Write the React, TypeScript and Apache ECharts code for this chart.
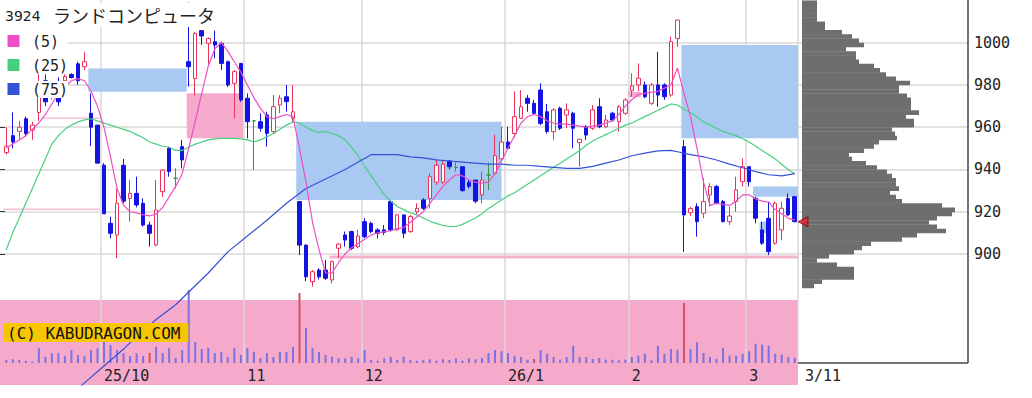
import React, { useEffect, useRef } from "react";
import * as echarts from "echarts";

// ---------- data ----------
const DATES = [
  "2025-09-08","2025-09-09","2025-09-10","2025-09-11","2025-09-12","2025-09-16","2025-09-17","2025-09-18","2025-09-19","2025-09-22","2025-09-24","2025-09-25","2025-09-26","2025-09-29","2025-09-30",
  "2025-10-01","2025-10-02","2025-10-03","2025-10-06","2025-10-07","2025-10-08","2025-10-09","2025-10-10","2025-10-14","2025-10-15","2025-10-16","2025-10-17","2025-10-20","2025-10-21","2025-10-22","2025-10-23","2025-10-24","2025-10-27","2025-10-28","2025-10-29","2025-10-30","2025-10-31",
  "2025-11-04","2025-11-05","2025-11-06","2025-11-07","2025-11-10","2025-11-11","2025-11-12","2025-11-13","2025-11-14","2025-11-17","2025-11-18","2025-11-19","2025-11-20","2025-11-21","2025-11-25","2025-11-26","2025-11-27","2025-11-28",
  "2025-12-01","2025-12-02","2025-12-03","2025-12-04","2025-12-05","2025-12-08","2025-12-09","2025-12-10","2025-12-11","2025-12-12","2025-12-15","2025-12-16","2025-12-17","2025-12-18","2025-12-19","2025-12-22","2025-12-23","2025-12-24","2025-12-25","2025-12-26","2025-12-29","2025-12-30",
  "2026-01-05","2026-01-06","2026-01-07","2026-01-08","2026-01-09","2026-01-13","2026-01-14","2026-01-15","2026-01-16","2026-01-19","2026-01-20","2026-01-21","2026-01-22","2026-01-23","2026-01-26","2026-01-27","2026-01-28","2026-01-29","2026-01-30",
  "2026-02-02","2026-02-03","2026-02-04","2026-02-05","2026-02-06","2026-02-09","2026-02-10","2026-02-12","2026-02-13","2026-02-16","2026-02-17","2026-02-18","2026-02-19","2026-02-20","2026-02-24","2026-02-25","2026-02-26","2026-02-27",
  "2026-03-02","2026-03-03","2026-03-04","2026-03-05","2026-03-06","2026-03-09","2026-03-10","2026-03-11",
];

const MONTH_LABELS: Record<string, string> = {
  "2025-10-01": "25/10",
  "2025-11-04": "11",
  "2025-12-01": "12",
  "2026-01-05": "26/1",
  "2026-02-02": "2",
  "2026-03-02": "3",
};
const LAST_LABEL = "3/11";
const TITLE_CODE = "3924";
const TITLE_NAME = "ランドコンピュータ";
const MA_NAMES = ["(5)", "(25)", "(75)"];

const OPEN = [
  948, 956, 958, 964, 958.7, 967, 982, 975, 980, 982,
  985, 990, 988.6, 966.6, 961, 942, 914.5, 909, 942, 926.3,
  928.7, 924, 913.7, 904.3, 929.5, 950, 935.8, 950.8, 991, 983,
  1005.7, 999.7, 1000.5, 999.7, 991, 980.8, 990.2, 973.7, 963, 962.6,
  965.8, 957.9, 970.5, 974.4, 964.2, 924.8, 904.2, 886.9, 892.4, 892.4,
  887.7, 902.7, 909, 910.6, 903.5, 915.3, 914.5, 911.4, 911.4, 924.8,
  911.4, 918.5, 910.6, 920, 925.6, 926.3, 934, 934, 944, 941,
  941.3, 934, 935, 928, 937.4, 938.2, 945, 953, 957, 964.2,
  973.7, 971.3, 977.6, 967.3, 957.9, 969, 965.8, 966.6, 952.7, 960.2,
  959.5, 969.7, 960.2, 966.6, 962.6, 966.6, 977.3, 980, 980, 971.3,
  980, 980, 975.2, 1002, 950.8, 919.5, 922.4, 919.3, 927.9, 931.9,
  924.8, 915.3, 924.8, 934.2, 941.3, 926.3, 911.4, 916.9, 905.1, 911.4,
  926.3, 927.1,
];
const CLOSE = [
  951, 953, 960, 957, 961, 976, 972, 978, 972, 984,
  983.5, 982, 991, 960, 943, 919, 909.8, 924, 925, 928.7,
  923.2, 913.7, 909.8, 920.8, 939.7, 939, 935.8, 944.5, 988.6, 1004.4,
  1003.2, 1002, 998.9, 990.2, 980, 986.3, 972.9, 962.6, 963, 959.5,
  957.1, 969.7, 973.7, 972.1, 967.3, 904.2, 889.2, 891.6, 889.2, 888.5,
  896.4, 904.7, 906.6, 902.7, 908.5, 908.2, 910.6, 909.8, 910.2, 911.4,
  918.5, 909.8, 917.7, 921.6, 921.6, 936.6, 942, 942.5, 941.3, 941,
  930, 932, 925, 935, 937.4, 946.5, 953, 950, 965, 969.7,
  971.3, 966.6, 961.8, 958, 968.2, 959.5, 968.2, 959.5, 954.3, 956.3,
  968.2, 960.2, 963.4, 963.4, 969.7, 972.9, 979.5, 983.2, 974.4, 980,
  975.2, 974.4, 1000.5, 1010.7, 918.5, 921.5, 915.3, 924.8, 931.9, 924,
  915.3, 918, 930.3, 941.3, 934.2, 916.9, 905.1, 901.1, 924, 921.6,
  918.5, 915.3,
];
const LOW = [
  947, 950, 954, 955.5, 954, 963, 970, 973, 970, 981,
  983, 980, 987, 951, 943, 919, 907.4, 898, 924, 915.3,
  922, 912.9, 903.5, 903.5, 927, 936.6, 931, 940.5, 979.2, 975,
  999, 989.4, 992.6, 987.1, 979, 964.2, 972, 954.7, 939.7, 957.9,
  950.8, 957.1, 966.6, 967.3, 962.6, 899.5, 887, 884.5, 888, 887.7,
  886.1, 898, 903.5, 901.9, 902.7, 907.4, 909.8, 907.4, 909, 910.6,
  911, 907.4, 910, 918.5, 920.8, 921.6, 932.7, 933, 940, 939,
  929.5, 931, 924, 924, 930.3, 937.4, 944.5, 949.2, 955, 964,
  967.3, 965.8, 961, 957, 954, 958.7, 959.5, 950, 941.3, 954,
  958.7, 959.5, 959.5, 962.6, 957.9, 965.8, 974.4, 977, 973.7, 970.5,
  969.7, 972.9, 974.4, 998, 901, 918, 908.2, 916.9, 922.4, 923.5,
  915, 913.7, 920, 931.9, 931.9, 914.5, 904.3, 899.5, 904.3, 906.6,
  918, 915,
];
const HIGH = [
  960, 967, 963, 965, 962.6, 985, 985, 980, 983.6, 985,
  985.5, 991, 995.7, 976, 961, 943, 917.7, 931, 945, 935,
  936.6, 926.3, 915.3, 935, 940, 950.8, 940.5, 954, 1019, 1005,
  1006, 1002.5, 1005.7, 1000.5, 991.5, 987.1, 990.2, 976, 963.4, 966.6,
  967.3, 975.2, 975.2, 980, 980, 925, 904.5, 892.4, 893.2, 897.2,
  897, 905.1, 910.6, 911, 911.5, 916.9, 915.3, 912.2, 913.7, 925.6,
  919, 918.5, 918.5, 924, 926.4, 938, 944.5, 944.5, 944.5, 943.3,
  941.3, 935, 935, 939, 943.3, 956.5, 960.2, 960.2, 977, 977.6,
  975.2, 972.9, 980.8, 971, 969, 969.7, 971.3, 967.3, 954.5, 961,
  970.5, 973.7, 965.8, 967.3, 970.5, 973.7, 985.5, 990.2, 981.6, 981,
  995.7, 980.8, 1002.8, 1010.7, 954, 922.4, 924, 935.8, 933.5, 932.7,
  925.6, 922.4, 936.6, 945.3, 941.3, 927, 915.3, 924.8, 924.8, 924.8,
  928.7, 927.5,
];

const VOLUME = [
  3, 3.7, 3, 2.3, 1.3, 15, 6.3, 9.7, 9.7, 7,
  13, 8, 7, 13, 14.7, 21.3, 18, 13, 9.7, 7,
  9.7, 7, 10, 16.3, 10, 15, 5, 13, 73, 21,
  14, 15, 10, 11, 6, 15, 8, 15, 11, 5,
  10, 6, 11, 11, 16, 70, 35, 15, 11, 8,
  6.3, 4.7, 4.7, 6.3, 4.7, 13, 3, 2.3, 4.7, 6.3,
  3, 6.3, 3, 2.3, 3, 3.7, 2.3, 3.7, 3, 4.7,
  2.3, 4.7, 3.7, 5, 10, 13, 11.7, 10, 7.3, 6,
  3.3, 4, 12.7, 9.3, 6, 3.3, 6, 17.3, 6, 6,
  4, 5, 3.3, 3.3, 2.7, 3.3, 6, 7.3, 9.3, 2.7,
  17.3, 9.3, 14, 13.3, 60, 14, 20.7, 10, 6, 4,
  15, 7.3, 7.3, 9.3, 11.7, 19.3, 18.3, 17.3, 9.3, 8.3,
  6, 5,
];
const VOLUME_ALERT = [22, 45, 81, 104];

const MA5 = [
  950, 952, 954, 956, 959, 962, 966, 971, 976, 979,
  982, 983, 982, 977, 970, 960, 946, 931, 923, 920,
  919.5, 918.5, 918, 919, 922, 927, 932, 938, 950, 963,
  976, 989, 997, 1000, 996, 991, 986, 980, 974, 969,
  965, 964, 965, 966, 965, 950, 934, 915, 902, 891,
  891, 896, 900, 903, 905, 907, 909, 910, 910.5, 911,
  912, 912.5, 915, 917.5, 920, 924, 928, 932, 935, 937.5,
  937, 935, 934, 933.5, 934, 938, 944, 950, 956, 962,
  965, 966, 965, 963, 962, 961.5, 961.5, 961, 960.5, 960,
  960.5, 961, 962, 963, 966, 970, 973, 975.5, 976, 976.5,
  977, 978.5, 980, 988, 976, 965, 950, 934, 923, 924,
  923.5, 923, 925, 928, 928, 926, 925, 924.5, 921, 919,
  917, 916,
];
const MA25 = [
  902, 910, 917, 924, 931, 938, 945, 952, 956, 959,
  961, 962.5, 963.5, 964, 963, 962, 961, 960, 959, 958,
  956.5, 955, 953, 952, 951, 950.5, 949, 949, 950.5, 952,
  953, 954, 954.5, 954.7, 954.7, 954.7, 954.5, 954, 953, 954,
  955.5, 957, 959, 961, 962.5, 962, 960, 958.5, 957.5, 958,
  957, 956, 954, 950.5, 946.5, 941.5, 937, 932.5, 928, 925,
  922.5, 921, 919.5, 918.5, 917, 915.5, 914.5, 913.5, 913, 913,
  914, 915.5, 917, 919, 921.5, 923.5, 925.5, 927.5, 929, 931,
  933, 935, 937, 939, 941, 943, 945, 947, 949, 951.5,
  953.5, 955, 956.5, 958, 959.5, 961, 962, 963.5, 965, 966.5,
  968, 969.5, 971, 970.5, 968.5, 967, 965, 962.5, 961, 959.5,
  958, 957, 956, 954.5, 953, 951, 949, 947, 945, 942.5,
  940, 938,
];
const MA75: [number, number][] = [
  [5, 820], [8, 828], [12, 839], [15, 847], [18, 855], [20, 861], [23, 869], [26, 876],
  [28, 882], [31, 891], [34, 901], [37, 908.5], [40, 916], [43, 924], [46, 931], [49, 935.5],
  [52, 940], [54, 943.5], [56, 947], [58, 947], [60, 947], [62, 946], [64, 945.5], [66, 944.5],
  [68, 944], [70, 943.5], [72, 943], [74, 942.5], [76, 942.5], [78, 942], [80, 942], [82, 941.5],
  [84, 941], [86, 940.5], [88, 940.5], [90, 941.5], [92, 943], [94, 944.5], [96, 946.5], [98, 947.7],
  [100, 948.8], [102, 949], [103, 948.4], [105, 947], [107, 946], [109, 944.5], [111, 942.5],
  [113, 940.8], [115, 939], [117, 937.5], [119, 937], [121, 938],
];

// volume-by-price profile (bin low price, bin volume)
const PROFILE_PRICE = [
  884, 886, 888, 890, 892, 894, 896, 898, 900, 902, 904, 906, 908, 910, 912, 914, 916, 918, 920, 922,
  924, 926, 928, 930, 932, 934, 936, 938, 940, 942, 944, 946, 948, 950, 952, 954, 956, 958, 960, 962,
  964, 966, 968, 970, 972, 974, 976, 978, 980, 982, 984, 986, 988, 990, 992, 994, 996, 998, 1000, 1002,
  1004, 1006, 1008, 1010, 1012, 1014, 1016, 1018,
];
const PROFILE_VOL = [
  12, 20, 52, 52, 52, 35, 15, 27, 52, 60, 69, 100, 115, 144, 135, 127, 135, 150, 153, 140,
  100, 94, 88, 97, 94, 94, 90, 85, 75, 64, 50, 47, 62, 72, 77, 95, 93, 90, 112, 112,
  104, 117, 109, 109, 109, 105, 97, 97, 108, 94, 84, 78, 72, 57, 54, 54, 44, 62, 57, 50,
  40, 23, 23, 15, 15, 15, 15, 15,
];
const PROFILE_BIN = 2;

// shaded zones: [fromIndex, toIndex, upper price, lower price, kind 0=blue 1=pink]
const ZONES: [number, number, number, number, number][] = [
  [12.6, 27.7, 987.8, 976.8, 0],
  [27.7, 36.35, 976.1, 954.8, 1],
  [44.5, 76.0, 962.6, 925.6, 0],
  [95.4, 97.4, 976.8, 974.2, 1],
  [103.6, 121.5, 998.9, 954.8, 0],
  [114.6, 121.5, 931.9, 927.1, 0],
  [115.6, 116.7, 915.3, 909.8, 0],
];
// horizontal marker lines: [fromIndex, toIndex, price, width]
const LEVELS: [number, number, number, number][] = [
  [-0.5, 14.4, 921.2, 1],
  [5.6, 14.4, 964.3, 1],
  [49.6, 121.5, 898.6, 3],
];

// ---------- layout ----------
const PRICE_MIN = 838.0;
const PRICE_MAX = 1020.2;
const PLOT_L = 3;
const PLOT_W = 795;
const AXIS_X = 968;
const VOL_BOTTOM = 363;

const C_UP = "#e8345c";
const C_DOWN = "#1414e0";
const C_DOJI = "#2e9a3e";
const C_MA5 = "#ee4fc6";
const C_MA25 = "#46d07e";
const C_MA75 = "#3452d6";
const C_BLUEZONE = "#aac9f2";
const C_PINK = "#f5aacb";
const C_GRID = "#d9d9d9";
const MONO = '"DejaVu Sans Mono", monospace';

export default function App() {
  const ref = useRef<HTMLDivElement>(null);

  useEffect(() => {
    if (!ref.current) return;
    const chart = echarts.init(ref.current, null, { renderer: "svg" });
    const n = DATES.length;
    const isMonth = (_i: number, v: string) => v in MONTH_LABELS;

    const option: any = {
      animation: false,
      backgroundColor: "#ffffff",
      grid: [
        { left: PLOT_L, top: 0, width: PLOT_W, height: 385 },
        { left: PLOT_L, top: 0, width: PLOT_W, height: VOL_BOTTOM },
        { left: 802, top: 0, width: AXIS_X - 802, height: 385 },
        { left: 0, top: 42.7, width: AXIS_X, height: 211.3 },
      ],
      xAxis: [
        { type: "category", gridIndex: 0, data: DATES, show: false, boundaryGap: true },
        {
          type: "category", gridIndex: 1, data: DATES, boundaryGap: true,
          axisLine: { show: false }, axisTick: { show: false },
          axisLabel: {
            interval: isMonth, formatter: (v: string) => MONTH_LABELS[v] ?? "",
            align: "left", margin: 5, fontFamily: MONO, fontSize: 15, color: "#222",
          },
          splitLine: { show: true, interval: isMonth, lineStyle: { color: C_GRID, width: 1.5 } },
        },
        { type: "value", gridIndex: 0, min: -0.5, max: n - 0.5, show: false, position: "top" },
        { type: "value", gridIndex: 2, min: 0, max: AXIS_X - 802, show: false },
        { type: "value", gridIndex: 3, min: 0, max: 1, show: false },
      ],
      yAxis: [
        { type: "value", gridIndex: 0, min: PRICE_MIN, max: PRICE_MAX, show: false },
        { type: "value", gridIndex: 1, min: 0, max: VOL_BOTTOM, show: false },
        { type: "value", gridIndex: 2, min: PRICE_MIN, max: PRICE_MAX, show: false },
        {
          type: "value", gridIndex: 3, min: 900, max: 1000, interval: 20, position: "right",
          axisLine: { show: false },
          axisTick: { show: true, length: 5, lineStyle: { color: "#333" } },
          axisLabel: { margin: 6, fontFamily: MONO, fontSize: 15, color: "#222", formatter: (v: number) => String(v) },
          splitLine: { show: true, lineStyle: { color: C_GRID, width: 1.5 } },
        },
      ],
      series: [
        {
          type: "custom", xAxisIndex: 2, yAxisIndex: 0, z: 1,
          encode: { x: [0, 1], y: [2, 3] },
          data: ZONES,
          renderItem: (_p: any, api: any) => {
            const a = api.coord([api.value(0), api.value(2)]);
            const b = api.coord([api.value(1), api.value(3)]);
            return {
              type: "rect",
              shape: { x: a[0], y: a[1], width: b[0] - a[0], height: b[1] - a[1] },
              style: { fill: api.value(4) === 1 ? C_PINK : C_BLUEZONE },
            };
          },
        },
        {
          type: "custom", xAxisIndex: 2, yAxisIndex: 0, z: 1,
          encode: { x: [0, 1], y: 2 },
          data: LEVELS,
          renderItem: (_p: any, api: any) => {
            const a = api.coord([api.value(0), api.value(2)]);
            const b = api.coord([api.value(1), api.value(2)]);
            return {
              type: "line",
              shape: { x1: a[0], y1: a[1], x2: b[0], y2: b[1] },
              style: { stroke: api.value(3) > 1 ? "#f4b2cf" : "#f0a0c4", lineWidth: api.value(3) },
            };
          },
        },
        {
          type: "bar", xAxisIndex: 1, yAxisIndex: 1, barWidth: 2, z: 2,
          data: VOLUME.map((v, i) => ({
            value: v,
            itemStyle: { color: VOLUME_ALERT.includes(i) ? "#d4505c" : "#7b72df" },
          })),
        },
        {
          type: "candlestick", xAxisIndex: 0, yAxisIndex: 0, barWidth: 4, z: 3,
          data: DATES.map((_, i) => [OPEN[i], CLOSE[i], LOW[i], HIGH[i]]),
          itemStyle: {
            color: "#ffffff", color0: C_DOWN,
            borderColor: C_UP, borderColor0: C_DOWN, borderColorDoji: C_DOJI, borderWidth: 1,
          },
        },
        {
          type: "line", xAxisIndex: 0, yAxisIndex: 0, data: MA25, showSymbol: false, z: 4,
          lineStyle: { color: C_MA25, width: 1.2 },
        },
        {
          type: "line", xAxisIndex: 0, yAxisIndex: 0, data: MA75, showSymbol: false, z: 4,
          lineStyle: { color: C_MA75, width: 1.2 },
        },
        {
          type: "line", xAxisIndex: 0, yAxisIndex: 0, data: MA5, showSymbol: false, z: 4,
          lineStyle: { color: C_MA5, width: 1.2 },
        },
        {
          type: "custom", xAxisIndex: 3, yAxisIndex: 2, z: 2,
          encode: { x: 0, y: 1 },
          data: PROFILE_PRICE.map((p, i) => [PROFILE_VOL[i], p]),
          renderItem: (_p: any, api: any) => {
            const a = api.coord([0, api.value(1) + PROFILE_BIN]);
            const b = api.coord([api.value(0), api.value(1)]);
            return {
              type: "rect",
              shape: { x: a[0], y: a[1], width: b[0] - a[0], height: b[1] - a[1] + 0.4 },
              style: { fill: "#6e6e6e" },
            };
          },
        },
        {
          type: "scatter", xAxisIndex: 3, yAxisIndex: 2, z: 6,
          data: [[0, CLOSE[CLOSE.length - 1]]],
          symbol: "triangle", symbolRotate: 90, symbolSize: [10, 10], symbolOffset: [1, 0],
          itemStyle: { color: "#e3202a", borderColor: "#7a0000", borderWidth: 1 },
        },
      ],
      graphic: {
        elements: [
          { type: "rect", silent: true, z: -1, shape: { x: 0, y: 300, width: 798, height: 85 }, style: { fill: C_PINK } },
          { type: "line", silent: true, z: 5, shape: { x1: AXIS_X, y1: 0, x2: AXIS_X, y2: VOL_BOTTOM }, style: { stroke: "#444", lineWidth: 1.5 } },
          { type: "line", silent: true, z: 5, shape: { x1: 798, y1: VOL_BOTTOM, x2: AXIS_X, y2: VOL_BOTTOM }, style: { stroke: "#444", lineWidth: 1.5 } },
          { type: "text", silent: true, z: 10, x: 805, y: 376, style: { text: LAST_LABEL, font: `15px ${MONO}`, fill: "#222", verticalAlign: "middle" } },
          // title
          { type: "rect", silent: true, z: 9, shape: { x: 0, y: 3, width: 218, height: 24 }, style: { fill: "#ffffff" } },
          { type: "text", silent: true, z: 10, x: 5, y: 16, style: { text: TITLE_CODE, font: '14px "DejaVu Sans"', fill: "#222", verticalAlign: "middle" } },
          { type: "text", silent: true, z: 10, x: 53, y: 15, style: { text: TITLE_NAME, font: '18px "Noto Sans CJK JP"', fill: "#222", verticalAlign: "middle" } },
          // legend rows
          ...[C_MA5, C_MA25, C_MA75].flatMap((c, k) => [
            { type: "rect", silent: true, z: 9, shape: { x: 0, y: 33 + 24 * k, width: 68, height: 17 }, style: { fill: "#ffffff" } },
            { type: "rect", silent: true, z: 10, shape: { x: 7.5, y: 35 + 24 * k, width: 12, height: 12 }, style: { fill: c } },
            { type: "text", silent: true, z: 10, x: 32, y: 41.5 + 24 * k, style: { text: MA_NAMES[k], font: `15px ${MONO}`, fill: "#222", verticalAlign: "middle" } },
          ]),
          // copyright
          {
            type: "text", silent: true, z: 10, x: 4, y: 323,
            style: { text: "(C) KABUDRAGON.COM", font: `16px ${MONO}`, fill: "#111", backgroundColor: "#f7c600", padding: [2, 8, 1, 3] },
          },
        ],
      },
    };

    chart.setOption(option);
    return () => chart.dispose();
  }, []);

  return (
    <div
      ref={ref}
      style={{ position: "fixed", left: 0, top: 0, width: 1032, height: 398, background: "#fff" }}
    />
  );
}
